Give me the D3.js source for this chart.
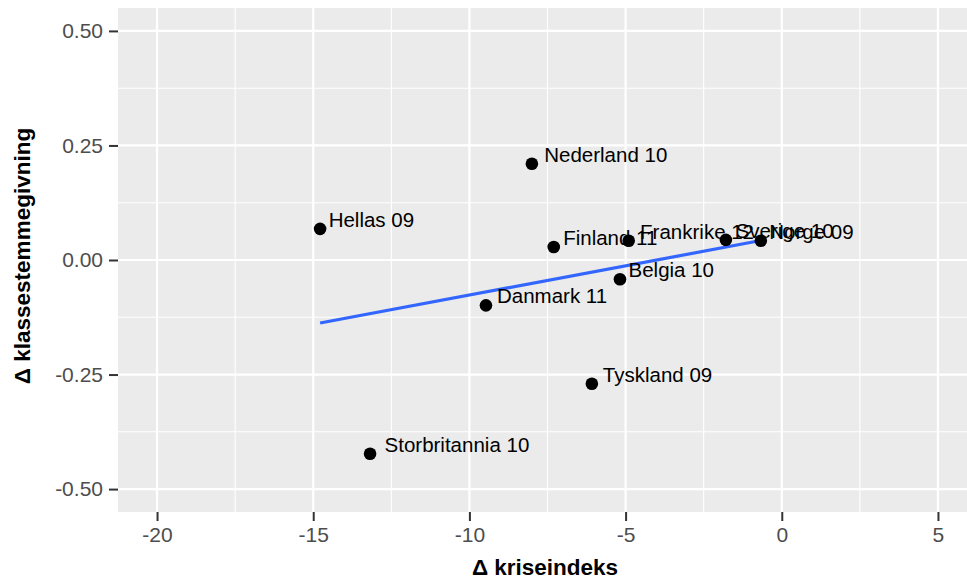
<!DOCTYPE html>
<html><head><meta charset="utf-8">
<script src="https://cdn.jsdelivr.net/npm/d3@7"></script>
<style>body{margin:0;background:#fff}svg{display:block}text{font-family:Arial,"Liberation Sans",sans-serif}</style>
</head><body><svg id="c" width="967" height="585"></svg>
<script>
const labels = ["Nederland 10","Hellas 09","Finland 11","Frankrike 12","Sverige 10","Norge 09","Belgia 10","Danmark 11","Tyskland 09","Storbritannia 10"];
const kriseindeks = [-8.0,-14.78,-7.30,-4.90,-1.79,-0.67,-5.18,-9.47,-6.08,-13.18];
const klassestemme = [0.21,0.068,0.0285,0.042,0.044,0.042,-0.042,-0.099,-0.27,-0.423];
const xTicks = [-20,-15,-10,-5,0,5];
const yTicks = [-0.5,-0.25,0,0.25,0.5];
const xMinor = [-17.5,-12.5,-7.5,-2.5,2.5];
const yMinor = [-0.375,-0.125,0.125,0.375];

const svg = d3.select("#c");
const P = {l:118, t:8, b:512, r:977};
const x = d3.scaleLinear().domain([-21.25,6.25]).range([P.l,P.r]);
const y = d3.scaleLinear().domain([-0.55,0.55]).range([P.b,P.t]);

svg.append("rect").attr("x",P.l).attr("y",P.t).attr("width",P.r-P.l).attr("height",P.b-P.t).attr("fill","#EBEBEB");
const g = svg.append("g");
g.selectAll(".xm").data(xMinor).join("line").attr("x1",d=>x(d)).attr("x2",d=>x(d)).attr("y1",P.t).attr("y2",P.b).attr("stroke","#fff").attr("stroke-width",1.1);
g.selectAll(".ym").data(yMinor).join("line").attr("y1",d=>y(d)).attr("y2",d=>y(d)).attr("x1",P.l).attr("x2",P.r).attr("stroke","#fff").attr("stroke-width",1.1);
g.selectAll(".xM").data(xTicks).join("line").attr("x1",d=>x(d)).attr("x2",d=>x(d)).attr("y1",P.t).attr("y2",P.b).attr("stroke","#fff").attr("stroke-width",2.2);
g.selectAll(".yM").data(yTicks).join("line").attr("y1",d=>y(d)).attr("y2",d=>y(d)).attr("x1",P.l).attr("x2",P.r).attr("stroke","#fff").attr("stroke-width",2.2);

// axes
const xa = svg.append("g").attr("transform",`translate(0,${P.b})`)
  .call(d3.axisBottom(x).tickValues(xTicks).tickSize(9).tickPadding(6).tickFormat(d3.format("d")));
const ya = svg.append("g").attr("transform",`translate(${P.l},0)`)
  .call(d3.axisLeft(y).tickValues(yTicks).tickSize(9).tickPadding(6).tickFormat(d3.format(".2f")));
[xa,ya].forEach(a=>{a.select(".domain").remove();
  a.selectAll("line").attr("stroke","#333").attr("stroke-width",2);
  a.selectAll("text").attr("fill","#4D4D4D").attr("font-size",21).attr("font-family","Arial, 'Liberation Sans', sans-serif");});
xa.selectAll("text").text(d=>d<0?"-"+Math.abs(d):d);
ya.selectAll("text").text(d=>d3.format(".2f")(d).replace("−","-"));

// regression
const n = kriseindeks.length;
const mx = d3.mean(kriseindeks), my = d3.mean(klassestemme);
let sxy=0,sxx=0; for(let i=0;i<n;i++){sxy+=(kriseindeks[i]-mx)*(klassestemme[i]-my);sxx+=(kriseindeks[i]-mx)**2;}
const b1 = sxy/sxx, b0 = my-b1*mx;
const [x0,x1] = d3.extent(kriseindeks);
svg.append("line").attr("x1",x(x0)).attr("y1",y(b0+b1*x0)).attr("x2",x(x1)).attr("y2",y(b0+b1*x1))
  .attr("stroke","#3366FF").attr("stroke-width",3.2);

const data = labels.map((l,i)=>({l,x:kriseindeks[i],y:klassestemme[i]}));
svg.selectAll(".pt").data(data).join("circle").attr("cx",d=>x(d.x)).attr("cy",d=>y(d.y)).attr("r",6.3).attr("fill","#000");
const tl = svg.selectAll(".lb").data(data).join("text").attr("y",d=>y(d.y)-2)
  .attr("font-size",20.5).attr("fill","#000").text(d=>d.l);
tl.each(function(d){const w=this.getComputedTextLength(); d3.select(this).attr("x",x(d.x)+0.1*w);});

svg.append("text").attr("x",545).attr("y",575).attr("text-anchor","middle").attr("font-weight","bold").attr("font-size",22.5).attr("fill","#000").text("Δ kriseindeks");
svg.append("text").attr("transform","translate(30,256) rotate(-90)").attr("text-anchor","middle").attr("font-weight","bold").attr("font-size",22.5).attr("fill","#000").text("Δ klassestemmegivning");
</script></body></html>
